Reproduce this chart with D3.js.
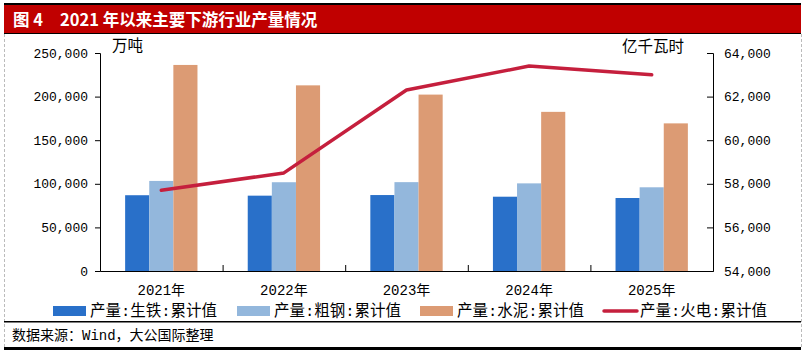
<!DOCTYPE html>
<html>
<head>
<meta charset="utf-8">
<script src="https://cdn.jsdelivr.net/npm/d3@7"></script>
<style>
  body { margin: 0; background: #fff; }
  svg { display: block; }
  text { font-family: "Liberation Mono", "Noto Sans CJK SC", sans-serif; fill: #000; }
</style>
</head>
<body>
<div id="chart"></div>
<script>
const years = ["2021年", "2022年", "2023年", "2024年", "2025年"];
const seriesNames = ["产量:生铁:累计值", "产量:粗钢:累计值", "产量:水泥:累计值", "产量:火电:累计值"];
const pigIron = [86900, 86400, 87100, 85200, 83700];
const crudeSteel = [103300, 101800, 101900, 100500, 96000];
const cement = [236300, 212900, 202300, 182500, 169300];
const thermalPower = [57700, 58500, 62300, 63400, 63000];
const leftTicks = [0, 50000, 100000, 150000, 200000, 250000];
const rightTicks = [54000, 56000, 58000, 60000, 62000, 64000];

const W = 803, H = 351;
const colors = ["#2970C9", "#93B7DC", "#DC9B74", "#C51F3D"];

const svg = d3.select("#chart").append("svg")
    .attr("width", W)
    .attr("height", H);

/* frame + title bar */
svg.append("rect").attr("x", 4).attr("y", 3).attr("width", 797).attr("height", 2).attr("fill", "#000");
svg.append("rect").attr("x", 4).attr("y", 5).attr("width", 797).attr("height", 28).attr("fill", "#C00000");
svg.append("rect").attr("x", 4).attr("y", 33).attr("width", 797).attr("height", 1).attr("fill", "#000");
[4.5, 801.5].forEach(x => {
    svg.append("line")
        .attr("x1", x).attr("x2", x).attr("y1", 34).attr("y2", 347)
        .attr("stroke", "#bbb").attr("stroke-dasharray", "3,2");
});
svg.append("text").attr("x", 13).attr("y", 20).attr("dy", "0.35em")
    .style("font-family", "'Noto Sans CJK SC', sans-serif")
    .style("font-weight", "bold").style("font-size", "16.5px").style("fill", "#fff")
    .text("图 4");
svg.append("text").attr("x", 60).attr("y", 20).attr("dy", "0.35em")
    .style("font-family", "'Noto Sans CJK SC', sans-serif")
    .style("font-weight", "bold").style("font-size", "16.5px").style("fill", "#fff")
    .text("2021 年以来主要下游行业产量情况");

const plot = { left: 100, right: 713, top: 53, bottom: 271 };

/* scales */
const x0 = d3.scaleBand().domain(years).range([plot.left, plot.right]);
const groupW = x0.bandwidth() * 0.59;
const x1 = d3.scaleBand().domain([0, 1, 2]).range([0, groupW]);
const yL = d3.scaleLinear().domain([0, 250000]).range([plot.bottom, plot.top]);
const yR = d3.scaleLinear().domain([54000, 64000]).range([plot.bottom, plot.top]);

/* bars */
const barSeries = [pigIron, crudeSteel, cement];
barSeries.forEach((vals, si) => {
    svg.selectAll(".bar" + si)
        .data(vals)
        .enter()
        .append("rect")
        .attr("x", (d, i) => x0(years[i]) + (x0.bandwidth() - groupW) / 2 + x1(si))
        .attr("y", d => yL(d))
        .attr("width", x1.bandwidth())
        .attr("height", d => yL(0) - yL(d))
        .attr("fill", colors[si]);
});

/* line */
const line = d3.line()
    .x((d, i) => x0(years[i]) + x0.bandwidth() / 2)
    .y(d => yR(d));
svg.append("path")
    .datum(thermalPower)
    .attr("d", line)
    .attr("fill", "none")
    .attr("stroke", colors[3])
    .attr("stroke-width", 3.5)
    .attr("stroke-linejoin", "round")
    .attr("stroke-linecap", "round");

/* left axis */
const fmt = d3.format(",");
const gL = svg.append("g")
    .attr("transform", `translate(${plot.left},0)`)
    .call(d3.axisLeft(yL).tickValues(leftTicks).tickSize(5).tickPadding(7).tickFormat(fmt));
gL.selectAll("text").style("font-size", "13px");

/* right axis */
const gR = svg.append("g")
    .attr("transform", `translate(${plot.right},0)`)
    .call(d3.axisRight(yR).tickValues(rightTicks).tickSize(-6).tickPadding(11).tickFormat(fmt));
gR.selectAll("text").style("font-size", "13px");

/* x axis */
const gX = svg.append("g")
    .attr("transform", `translate(0,${plot.bottom})`)
    .call(d3.axisBottom(x0).tickSize(0).tickPadding(14));
gX.selectAll("text").style("font-size", "14px");
gX.selectAll(".sep")
    .data(years.slice(1))
    .enter()
    .append("line")
    .attr("x1", d => x0(d) + 0.5).attr("x2", d => x0(d) + 0.5)
    .attr("y1", 0).attr("y2", -6)
    .attr("stroke", "#000");
svg.selectAll(".domain").attr("stroke", "#000");

/* unit labels */
svg.append("text").attr("x", 112).attr("y", 46).attr("dy", "0.35em")
    .style("font-size", "15.5px").text("万吨");
svg.append("text").attr("x", 622).attr("y", 47).attr("dy", "0.35em")
    .style("font-size", "15.5px").text("亿千瓦时");

/* legend */
const legendX = [53, 237, 420, 603];
const legend = svg.selectAll(".legend")
    .data(seriesNames)
    .enter()
    .append("g")
    .attr("transform", (d, i) => `translate(${legendX[i]},311)`);
legend.each(function (d, i) {
    const g = d3.select(this);
    if (i < 3) {
        g.append("rect").attr("x", 0).attr("y", -5).attr("width", 33).attr("height", 10).attr("fill", colors[i]);
    } else {
        g.append("line").attr("x1", 1).attr("x2", 34).attr("y1", 0).attr("y2", 0)
            .attr("stroke", colors[i]).attr("stroke-width", 3.5).attr("stroke-linecap", "round");
    }
    g.append("text").attr("x", 37).attr("y", 0).attr("dy", "0.35em")
        .style("font-size", "15.5px").text(d);
});

/* footer */
svg.append("rect").attr("x", 4).attr("y", 321).attr("width", 797).attr("height", 1.5).attr("fill", "#000");
svg.append("text").attr("x", 12).attr("y", 335).attr("dy", "0.35em")
    .style("font-size", "14px").text("数据来源：Wind，大公国际整理");
svg.append("rect").attr("x", 4).attr("y", 347).attr("width", 797).attr("height", 3).attr("fill", "#000");
</script>
</body>
</html>
